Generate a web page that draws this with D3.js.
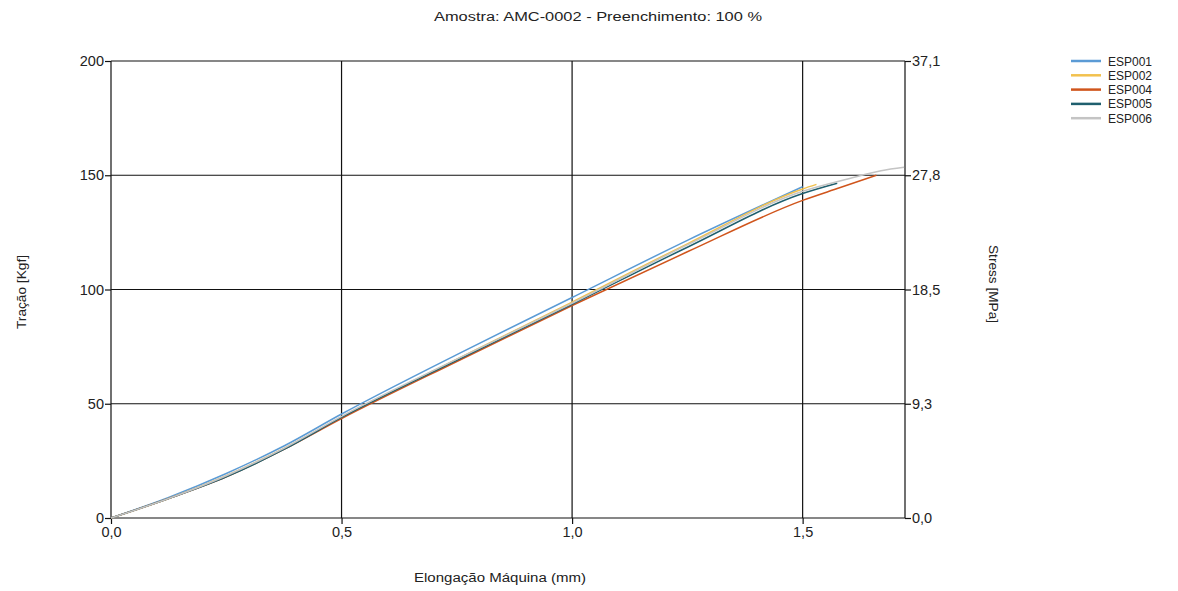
<!DOCTYPE html>
<html>
<head>
<meta charset="utf-8">
<script src="https://cdn.jsdelivr.net/npm/d3@7"></script>
<style>
body { margin:0; background:#fff; }
text { font-family: "Liberation Sans", Arial, sans-serif; fill:#222; }
.grid line { stroke:#111; stroke-width:1.2px; }
</style>
</head>
<body>
<div id="chart"></div>
<script>
// dados (elongacao mm, tracao kgf)
var series = ["ESP001","ESP002","ESP004","ESP005","ESP006"];
var colors = ["#5b9bd5","#f2c14e","#d0551c","#1f5f6e","#c4c4c4"];

var esp001 = [[0,0],[0.125,9],[0.25,19.5],[0.375,31.5],[0.5,45.5],[0.75,71.5],[1.0,96.5],[1.25,121.5],[1.5,145]];
var esp002 = [[0,0],[0.125,8.5],[0.25,18.5],[0.375,30.5],[0.5,44],[0.75,69.5],[1.0,94.5],[1.25,120],[1.5,144],[1.53,146]];
var esp004 = [[0,0],[0.125,8.5],[0.25,18],[0.375,30],[0.5,43.5],[0.75,68.5],[1.0,93],[1.25,116.5],[1.5,139],[1.58,144.5],[1.66,150]];
var esp005 = [[0,0],[0.125,8.5],[0.25,18],[0.375,30],[0.5,44],[0.75,69],[1.0,93.5],[1.25,118.5],[1.5,142],[1.575,146.5]];
var esp006 = [[0,0],[0.125,8.5],[0.25,18.5],[0.375,30.5],[0.5,44.5],[0.75,69.5],[1.0,94],[1.25,119.5],[1.5,143],[1.6,148.5],[1.67,152],[1.72,153.5]];
var allData = [esp001, esp002, esp004, esp005, esp006];

var xTicks = [0, 0.5, 1.0, 1.5];
var xTickLabels = ["0,0","0,5","1,0","1,5"];
var yTicks = [0, 50, 100, 150, 200];
var rightTickLabels = ["0,0","9,3","18,5","27,8","37,1"];

var W = 1178, H = 591;
var m = {left:111, right:273, top:61, bottom:73};

var svg = d3.select("#chart").append("svg").attr("width",W).attr("height",H);

var x = d3.scaleLinear().domain([0,1.722]).range([m.left, W-m.right]);
var y = d3.scaleLinear().domain([0,200]).range([H-m.bottom, m.top]);

// grade
var grid = svg.append("g").attr("class","grid");
grid.selectAll(".gx").data(xTicks).enter().append("line")
	.attr("x1",d=>x(d)).attr("x2",d=>x(d)).attr("y1",y(0)).attr("y2",y(200));
grid.selectAll(".gy").data(yTicks).enter().append("line")
	.attr("x1",x.range()[0]).attr("x2",x.range()[1]).attr("y1",d=>y(d)).attr("y2",d=>y(d));
grid.append("line").attr("x1",x.range()[1]).attr("x2",x.range()[1]).attr("y1",y(0)).attr("y2",y(200));

// eixos
var xAxis = svg.append("g").attr("transform","translate(0,"+y(0)+")")
	.call(d3.axisBottom(x).tickValues(xTicks).tickFormat((d,i)=>xTickLabels[i]).tickSize(6).tickPadding(3));
var yAxis = svg.append("g").attr("transform","translate("+x(0)+",0)")
	.call(d3.axisLeft(y).tickValues(yTicks).tickSize(6).tickPadding(1));
var y2Axis = svg.append("g").attr("transform","translate("+x.range()[1]+",0)")
	.call(d3.axisRight(y).tickValues(yTicks).tickFormat((d,i)=>rightTickLabels[i]).tickSize(6).tickPadding(1));
[xAxis,yAxis,y2Axis].forEach(function(a){
	a.select(".domain").remove();
	a.selectAll(".tick line").attr("stroke","#111").attr("stroke-width",1.2);
	a.selectAll(".tick text").attr("fill","#222").style("font-size","14.5px").style("font-family","'Liberation Sans', Arial, sans-serif");
});

// curvas
var line = d3.line().x(d=>x(d[0])).y(d=>y(d[1])).curve(d3.curveMonotoneX);
svg.append("g").selectAll("path").data(allData).enter().append("path")
	.attr("d",line).attr("fill","none")
	.attr("stroke",(d,i)=>colors[i]).attr("stroke-width",1.5);

// titulos
svg.append("text").attr("x",598).attr("y",21).attr("text-anchor","middle")
	.style("font-size","12px").attr("textLength",328).attr("lengthAdjust","spacingAndGlyphs")
	.text("Amostra: AMC-0002 - Preenchimento: 100 %");
svg.append("text").attr("x",500).attr("y",582).attr("text-anchor","middle")
	.style("font-size","12px").attr("textLength",172).attr("lengthAdjust","spacingAndGlyphs")
	.text("Elongação Máquina (mm)");
svg.append("text").attr("transform","translate(26,292) rotate(-90)").attr("text-anchor","middle")
	.style("font-size","12px").attr("textLength",74).attr("lengthAdjust","spacingAndGlyphs")
	.text("Tração [Kgf]");
svg.append("text").attr("transform","translate(989,284) rotate(90)").attr("text-anchor","middle")
	.style("font-size","12px").attr("textLength",78).attr("lengthAdjust","spacingAndGlyphs")
	.text("Stress [MPa]");

// legenda
var leg = svg.append("g").attr("transform","translate(1071,61)");
var li = leg.selectAll("g").data(series).enter().append("g")
	.attr("transform",(d,i)=>"translate(0,"+(i*14.3)+")");
li.append("line").attr("x1",0).attr("x2",30).attr("stroke",(d,i)=>colors[i]).attr("stroke-width",2.5);
li.append("text").attr("x",37).attr("y",4.5).style("font-size","12px").text(d=>d);
</script>
</body>
</html>
